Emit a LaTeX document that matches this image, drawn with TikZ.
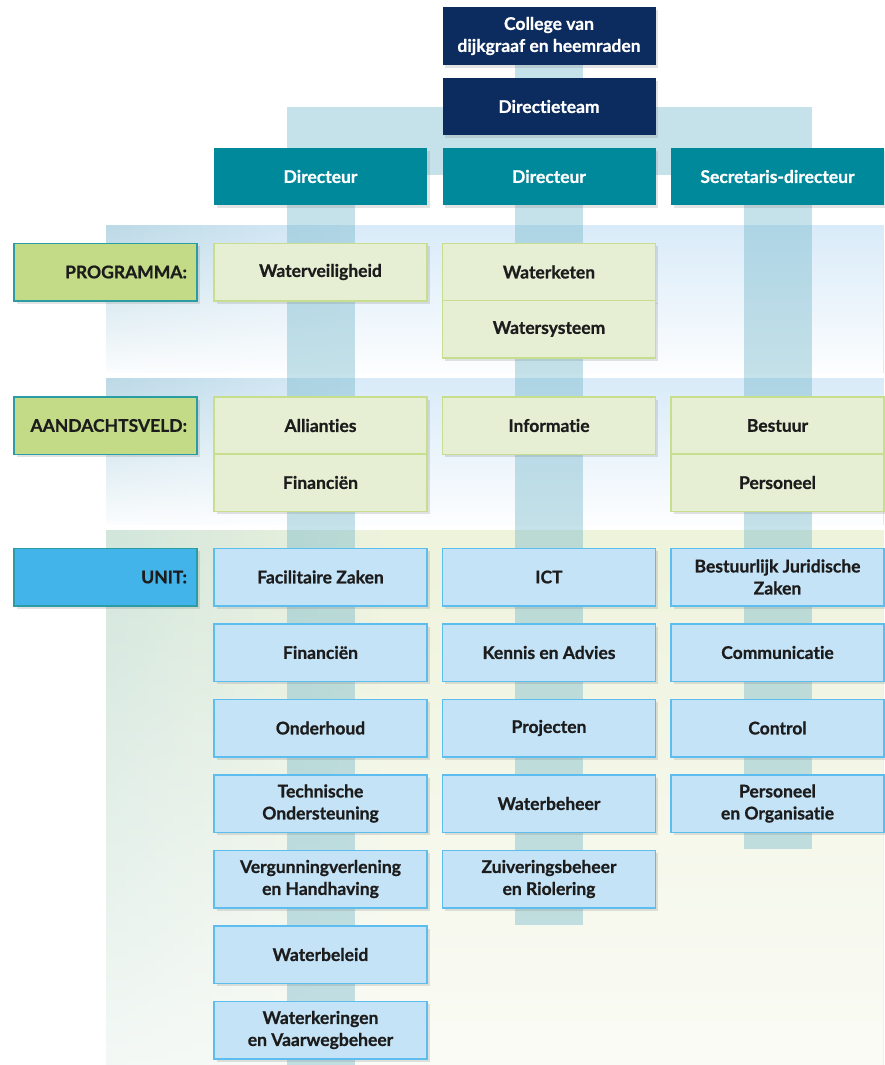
\documentclass[tikz,border=0pt]{standalone}
\usepackage{fontspec}
\setmainfont{Lato}[Ligatures={NoCommon}, BoldFeatures={FakeBold=0.8}]
\usetikzlibrary{shadows,fadings,backgrounds}

\definecolor{navy}{HTML}{0C2B5E}
\definecolor{dirteal}{HTML}{00899B}
\definecolor{bargrey}{HTML}{6FB5C8}
\definecolor{progfill}{HTML}{E6EFD3}
\definecolor{progline}{HTML}{C7DE8F}
\definecolor{labgreen}{HTML}{C3DA87}
\definecolor{labline}{HTML}{2A9CA3}
\definecolor{unitlab}{HTML}{43B4EA}
\definecolor{unitfill}{HTML}{C5E3F6}
\definecolor{unitline}{HTML}{5CBDEE}
\definecolor{txt}{HTML}{1C1C1C}
\definecolor{bandblue}{HTML}{D9EBF9}
\definecolor{bandleft}{HTML}{BCDAE6}
\definecolor{bandcream}{HTML}{EEF3DC}
\definecolor{bandgreen}{HTML}{D2E6DC}

\tikzfading[name=fadedown, top color=transparent!100, middle color=transparent!75, bottom color=transparent!5]
\tikzfading[name=fadelow, top color=transparent!100, middle color=transparent!70, bottom color=transparent!25]
\tikzfading[name=faderight, left color=transparent!0, right color=transparent!100]

\pgfdeclarelayer{bands}
\pgfdeclarelayer{bars}
\pgfsetlayers{bands,bars,main}

\newcommand\boxfont{\fontsize{17.5}{22}\selectfont\bfseries}

\begin{document}
\begin{tikzpicture}[x=1pt, y=-1pt,
    box/.style={minimum width=213pt, minimum height=57.5pt, align=center, inner sep=4pt,
      font=\boxfont, text=txt,
      drop shadow={shadow xshift=2.5pt, shadow yshift=-3pt, opacity=0.22}},
    topbox/.style={box, fill=navy, text=white},
    dirbox/.style={box, fill=dirteal, text=white},
    progbox/.style={box, fill=progfill, draw=progline, line width=1.5pt},
    unitbox/.style={box, fill=unitfill, draw=unitline, line width=1.5pt},
    labelbox/.style={box, minimum width=183pt, text width=163pt, align=right, inner sep=10pt,
      draw=labline, line width=1.5pt},
    bar/.style={line width=68pt, draw=bargrey, draw opacity=0.4}]
  \useasboundingbox (0,0) rectangle (884,1065);

  % top
  \node[topbox] (college) at (549,36) {College van\\dijkgraaf en heemraden};
  \node[topbox] (dteam) at (549,106.5) {Directieteam};
  \node[dirbox] (dir1) at (320.5,176.5) {Directeur};
  \node[dirbox] (dir2) at (549,176.5) {Directeur};
  \node[dirbox] (dir3) at (777.5,176.5) {Secretaris-directeur};

  % labels
  \node[labelbox, fill=labgreen] (lprog) at (105.5,272) {PROGRAMMA:};
  \node[labelbox, fill=labgreen] (laand) at (105.5,425.5) {AANDACHTSVELD:};
  \node[labelbox, fill=unitlab] (lunit) at (105.5,577) {UNIT:};

  % programma
  \node[progbox] (wveil) at (320.5,272) {Waterveiligheid};
  \node[progbox] (wketen) at (549,272) {Waterketen};
  \node[progbox] (wsys) at (549,329) {Watersysteem};

  % aandachtsveld
  \node[progbox] (allian) at (320.5,425.5) {Allianties};
  \node[progbox] (finan) at (320.5,482.5) {Financiën};
  \node[progbox] (inform) at (549,425.5) {Informatie};
  \node[progbox] (bestuur) at (777.5,425.5) {Bestuur};
  \node[progbox] (person) at (777.5,482.5) {Personeel};

  % units
  \node[unitbox] (u11) at (320.5,577) {Facilitaire Zaken};
  \node[unitbox] (u12) at (320.5,652.5) {Financiën};
  \node[unitbox] (u13) at (320.5,728) {Onderhoud};
  \node[unitbox] (u14) at (320.5,803.5) {Technische\\Ondersteuning};
  \node[unitbox] (u15) at (320.5,879) {Vergunningverlening\\en Handhaving};
  \node[unitbox] (u16) at (320.5,954.5) {Waterbeleid};
  \node[unitbox] (u17) at (320.5,1030) {Waterkeringen\\en Vaarwegbeheer};

  \node[unitbox] (u21) at (549,577) {ICT};
  \node[unitbox] (u22) at (549,652.5) {Kennis en Advies};
  \node[unitbox] (u23) at (549,728) {Projecten};
  \node[unitbox] (u24) at (549,803.5) {Waterbeheer};
  \node[unitbox] (u25) at (549,879) {Zuiveringsbeheer\\en Riolering};

  \node[unitbox] (u31) at (777.5,577) {Bestuurlijk Juridische\\Zaken};
  \node[unitbox] (u32) at (777.5,652.5) {Communicatie};
  \node[unitbox] (u33) at (777.5,728) {Control};
  \node[unitbox] (u34) at (777.5,803.5) {Personeel\\en Organisatie};

  % bars
  \coordinate (hbar) at (549,141);
  \coordinate (end1) at (320.5,1065);
  \coordinate (end2) at (549,925);
  \coordinate (end3) at (777.5,849);
  \begin{pgfonlayer}{bars}
    \draw[bar] (college) -- (dteam);
    \draw[bar, line cap=rect] (hbar -| dir1) -- (hbar -| dir3);
    \draw[bar] (dir1) -- (end1);
    \draw[bar] (dir2) -- (end2);
    \draw[bar] (dir3) -- (end3);
  \end{pgfonlayer}

  % background bands
  \begin{pgfonlayer}{bands}
    \fill[bandblue] (106,225) rectangle (884,373);
    \fill[bandleft, path fading=faderight] (106,225) rectangle (340,373);
    \fill[white, path fading=fadedown] (106,225) rectangle (884,373);
    \fill[bandblue] (106,378) rectangle (884,525);
    \fill[bandleft, path fading=faderight] (106,378) rectangle (340,525);
    \fill[white, path fading=fadedown] (106,378) rectangle (884,525);
    \fill[bandcream] (106,530) rectangle (884,1065);
    \fill[bandgreen, path fading=faderight] (106,530) rectangle (380,1065);
    \fill[white, path fading=fadelow] (106,530) rectangle (884,1065);
  \end{pgfonlayer}
\end{tikzpicture}
\end{document}
